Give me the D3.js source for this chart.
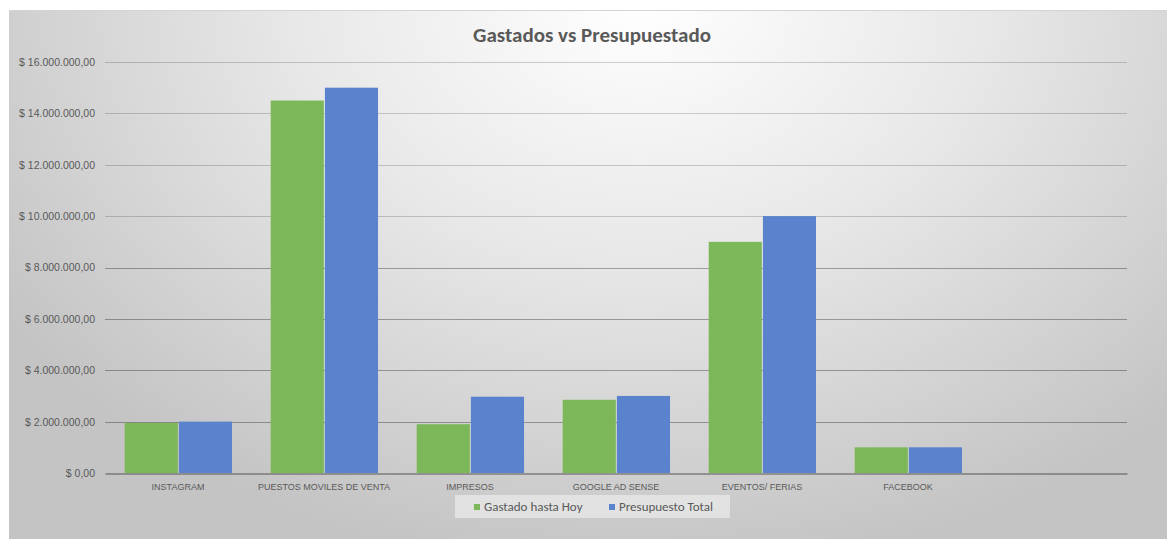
<!DOCTYPE html>
<html>
<head>
<meta charset="utf-8">
<script src="https://cdn.jsdelivr.net/npm/d3@7"></script>
<style>
  body { margin: 0; background: #fff; }
  svg { display: block; font-family: Calibri, Carlito, "Liberation Sans", "Open Sans", sans-serif; }
</style>
</head>
<body>
<div id="chart"></div>
<script>
// categories (last one is empty in the original sheet)
var categories = ['INSTAGRAM', 'PUESTOS MOVILES DE VENTA', 'IMPRESOS', 'GOOGLE AD SENSE', 'EVENTOS/ FERIAS', 'FACEBOOK', ''];
var gastado = [1950000, 14500000, 1900000, 2850000, 9000000, 1000000, 0];
var presupuesto = [2000000, 15000000, 2970000, 3000000, 10000000, 1000000, 0];
var seriesNames = ['Gastado hasta Hoy', 'Presupuesto Total'];
var seriesColors = ['#7cb85a', '#5b82cc'];
var yTicks = [0, 2000000, 4000000, 6000000, 8000000, 10000000, 12000000, 14000000, 16000000];

var width = 1167, height = 539;
var margin = { top: 62, right: 40, bottom: 66, left: 105 };

var svg = d3.select('#chart')
  .append('svg')
  .attr('width', width)
  .attr('height', height);

// background like the excel chart area
var defs = svg.append('defs');
var grad = defs.append('radialGradient')
  .attr('id', 'bg')
  .attr('gradientUnits', 'userSpaceOnUse')
  .attr('cx', 640).attr('cy', 0).attr('r', 760)
  .attr('gradientTransform', 'translate(640,0) scale(1,0.75) translate(-640,0)');
grad.append('stop').attr('offset', '0%').attr('stop-color', '#ffffff');
grad.append('stop').attr('offset', '45%').attr('stop-color', '#e8e8e8');
grad.append('stop').attr('offset', '100%').attr('stop-color', '#c4c4c4');

svg.append('rect')
  .attr('x', 9).attr('y', 10)
  .attr('width', width - 9).attr('height', height - 10)
  .attr('fill', 'url(#bg)');
svg.append('line')
  .attr('x1', 9).attr('x2', width).attr('y1', 10.5).attr('y2', 10.5)
  .attr('stroke', '#d4d4d4');

var x0 = d3.scaleBand()
  .domain(categories.map(function (d, i) { return i; }))
  .range([margin.left, width - margin.right])
  .paddingInner(0)
  .paddingOuter(0);

var bw = x0.bandwidth();
var x1 = d3.scaleBand()
  .domain([0, 1])
  .range([bw * 0.135, bw * 0.87])
  .paddingInner(0.02);

var y = d3.scaleLinear()
  .domain([0, 16000000])
  .range([height - margin.bottom, margin.top]);

function money(v) {
  if (v === 0) return '$ 0,00';
  return '$ ' + d3.format(',')(v).replace(/,/g, '.') + ',00';
}

// gridlines
var grid = svg.append('g').attr('class', 'grid');
grid.selectAll('line')
  .data(yTicks.filter(function (d) { return d > 0; }))
  .enter()
  .append('line')
  .attr('x1', margin.left).attr('x2', width - margin.right)
  .attr('y1', function (d) { return Math.round(y(d)) + 0.5; })
  .attr('y2', function (d) { return Math.round(y(d)) + 0.5; })
  .attr('stroke', function (d) { return d >= 10000000 ? 'rgba(0,0,0,0.18)' : 'rgba(0,0,0,0.32)'; })
  .attr('stroke-width', 1);

// y axis labels
var yAxis = d3.axisLeft(y).tickValues(yTicks).tickSize(0).tickPadding(10).tickFormat(money);
var yg = svg.append('g')
  .attr('transform', 'translate(' + margin.left + ',0)')
  .call(yAxis);
yg.select('.domain').remove();
yg.selectAll('text')
  .attr('fill', '#595959')
  .style('font-size', '10.5px');

// bars
var groups = svg.append('g')
  .selectAll('g')
  .data(categories)
  .enter()
  .append('g')
  .attr('transform', function (d, i) { return 'translate(' + x0(i) + ',0)'; });

groups.selectAll('rect')
  .data(function (d, i) { return [gastado[i], presupuesto[i]]; })
  .enter()
  .append('rect')
  .attr('x', function (d, j) { return x1(j); })
  .attr('width', x1.bandwidth())
  .attr('y', function (d) { return y(d); })
  .attr('height', function (d) { return y(0) - y(d); })
  .attr('fill', function (d, j) { return seriesColors[j]; });

// x axis
var xAxis = d3.axisBottom(x0).tickSize(0).tickPadding(10).tickFormat(function (i) { return categories[i]; });
var xg = svg.append('g')
  .attr('transform', 'translate(0,' + (Math.round(y(0)) + 0.5) + ')')
  .call(xAxis);
xg.select('.domain').attr('stroke', '#555').attr('stroke-width', 1.2);
xg.selectAll('text')
  .attr('fill', '#595959')
  .style('font-size', '9px');

// title
svg.append('text')
  .attr('x', 592).attr('y', 42)
  .attr('text-anchor', 'middle')
  .attr('fill', '#595959')
  .style('font-size', '21px')
  .style('font-weight', 'bold')
  .text('Gastados vs Presupuestado');

// legend
var legend = svg.append('g').attr('transform', 'translate(455,495)');
legend.append('rect')
  .attr('width', 275).attr('height', 23)
  .attr('fill', '#ebebeb').attr('opacity', 0.7);
var legendX = [19, 154];
seriesNames.forEach(function (name, j) {
  legend.append('rect')
    .attr('x', legendX[j]).attr('y', 9)
    .attr('width', 6).attr('height', 6)
    .attr('fill', seriesColors[j]);
  legend.append('text')
    .attr('x', legendX[j] + 10).attr('y', 16)
    .attr('fill', '#595959')
    .style('font-size', '13px')
    .text(name);
});
</script>
</body>
</html>
